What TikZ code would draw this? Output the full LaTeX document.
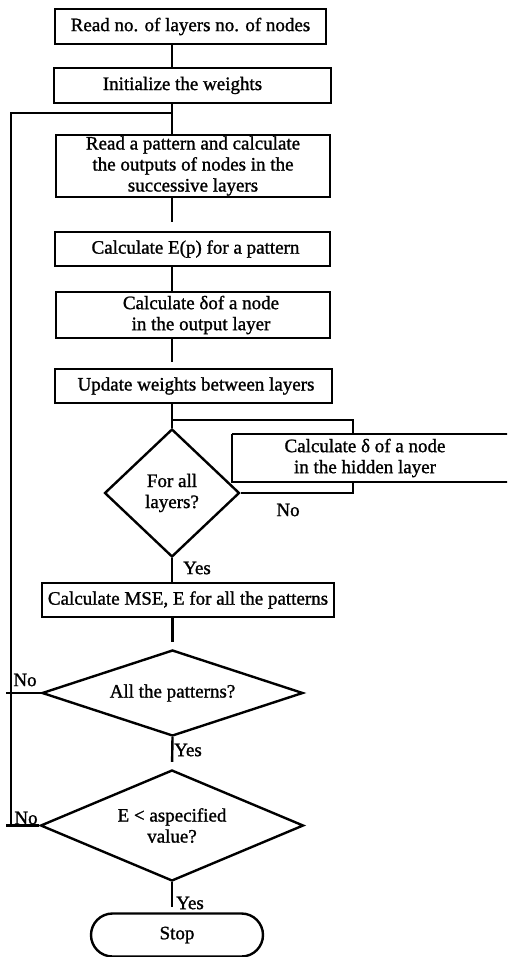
\documentclass[tikz,border=0pt]{standalone}
\usepackage{fontspec}
\setmainfont{Liberation Serif}[FakeBold=1.2]
\usetikzlibrary{shapes.geometric,shapes.misc}

\begin{document}
\begin{tikzpicture}[x=1pt,y=-1pt,line width=2.4pt,
  every node/.style={font=\fontsize{19}{21}\selectfont,inner sep=0pt},
  procbox/.style={draw,rectangle,align=center},
  decision/.style={draw,diamond,align=center},
  terminal/.style={draw,rounded rectangle,align=center},
  flowlabel/.style={anchor=center}]
\clip (0,0) rectangle (507,957);

% main column of process boxes
\node[procbox,minimum width=271,minimum height=35] (b1) at (190.5,26.5)
  {Read no. of layers no. of nodes};
\node[procbox,minimum width=277,minimum height=35] (b2) at (192.5,85.5)
  {\hspace*{-20pt}Initialize the weights};
\node[procbox,minimum width=274,minimum height=62] (b3) at (193,166)
  {Read a pattern and calculate\\the outputs of nodes in the\\successive layers};
\node[procbox,minimum width=275,minimum height=34] (b4) at (192.5,249)
  {\hspace*{6pt}Calculate E(p) for a pattern};
\node[procbox,minimum width=274,minimum height=46] (b5) at (193,315)
  {\hspace*{16pt}Calculate δof a node\\\hspace*{16pt}in the output layer};
\node[procbox,minimum width=277,minimum height=34] (b6) at (193.5,386)
  {\hspace*{5pt}Update weights between layers};

% inner loop over the layers
\node[decision,aspect=1.05,minimum width=135,minimum height=128] (d1) at (172,493)
  {For all\\layers?};
\node[procbox,draw=none,minimum width=264,minimum height=46] (hid) at (365,458)
  {Calculate δ of a node\\in the hidden layer};
\draw (hid.north west) -- ++(300,0);
\draw ([xshift=300pt]hid.south west) -- (hid.south west) -- (hid.north west);

\node[procbox,minimum width=292,minimum height=34] (mse) at (188,600)
  {Calculate MSE, E for all the patterns};
\node[decision,aspect=3.03,minimum width=261,minimum height=86] (d2) at (172.5,693)
  {All the patterns?};
\node[decision,aspect=2.37,minimum width=263,minimum height=111] (d3) at (172,825.5)
  {E < aspecified\\value?};
\node[terminal,minimum width=172,minimum height=43] (stop) at (177,935)
  {Stop};

% helper coordinates
\coordinate (axis) at (172,0);
\coordinate (rail) at (11,0);
\coordinate (tip) at (6,0);
\coordinate (loopin) at (172,113);
\coordinate (j1) at (172,420);
\coordinate (hidx) at (353,0);

% vertical connectors
\draw (b1.south -| axis) -- (b2.north -| axis);
\draw (b2.south -| axis) -- (b3.north -| axis);
\draw[shorten >=9pt] (b3.south -| axis) -- (b4.north -| axis);
\draw (b4.south -| axis) -- (b5.north -| axis);
\draw[shorten >=6pt] (b5.south -| axis) -- (b6.north -| axis);
\draw (b6.south -| axis) -- (d1.north);
\draw (d1.south) -- (mse.north -| d1.south);
\draw[shorten >=7pt] (mse.south -| d2.north) -- (d2.north);
\draw[shorten >=7pt] (d2.south) -- (d3.north);
\draw[shorten >=5pt] (d3.south) -- (stop.north -| d3.south);

% hidden-layer loop
\draw (j1) -| (hidx |- hid.north);
\draw (hidx |- hid.south) |- (d1.east);

% outer loops back to the pattern step
\draw (d2.west) -- (d2.west -| tip);
\draw (d3.west) -- (d3.west -| tip);
\draw (d3.west -| rail) -- (rail |- loopin) -- (loopin);

% branch labels
\node[flowlabel] (no1) at (288,510) {No};
\node[flowlabel] (yes1) at (197,568) {Yes};
\node[flowlabel] (no2) at (25,680) {No};
\node[flowlabel] (yes2) at (188,750) {Yes};
\node[flowlabel] (no3) at (26,818) {No};
\node[flowlabel] (yes3) at (190,903) {Yes};
\end{tikzpicture}
\end{document}
